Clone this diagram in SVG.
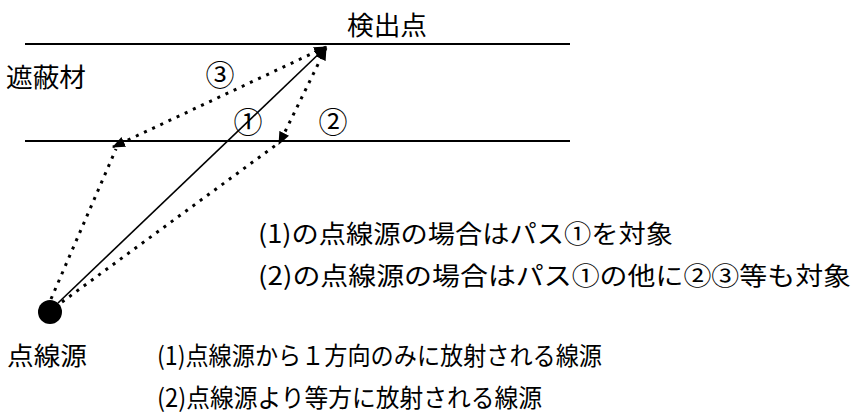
<svg xmlns="http://www.w3.org/2000/svg" width="857" height="418" viewBox="0 0 857 418">
<style>
  text { font-family: "Noto Sans CJK JP", "Noto Sans CJK SC", sans-serif; fill: #000; }
  .lbl { font-size: 26px; }
  .big { font-size: 25px; }
  .num { font-size: 29px; text-anchor: middle; }
  .wall { stroke: #000; stroke-width: 2.2; fill: none; }
  .solid { stroke: #000; stroke-width: 1.6; fill: none; }
  .dot { stroke: #000; stroke-width: 3; stroke-dasharray: 3 6; fill: none; }
</style>
<defs>
  <marker id="arr" markerUnits="userSpaceOnUse" viewBox="0 0 12 10" refX="11" refY="5" markerWidth="13" markerHeight="11" orient="auto-start-reverse">
    <path d="M0,0 L12,5 L0,10 Z" fill="#000"/>
  </marker>
</defs>
<g id="shield">
  <line class="wall" x1="25" y1="44" x2="570" y2="44"/>
  <line class="wall" x1="25" y1="141" x2="570" y2="141"/>
  <text class="lbl" x="6" y="87" textLength="80" lengthAdjust="spacingAndGlyphs">遮蔽材</text>
</g>
<g id="detector">
  <text class="lbl" x="347" y="35" textLength="80" lengthAdjust="spacingAndGlyphs">検出点</text>
</g>
<g id="source">
  <circle cx="50" cy="312" r="12" fill="#000"/>
  <text class="big" x="7" y="365" textLength="80" lengthAdjust="spacingAndGlyphs">点線源</text>
</g>
<g id="connectors">
  <line class="solid" x1="58" y1="303" x2="326" y2="47" marker-end="url(#arr)"/>
  <line class="dot" x1="62" y1="302" x2="276" y2="145"/>
  <line class="dot" x1="326" y1="48" x2="279" y2="144" marker-start="url(#arr)" marker-end="url(#arr)"/>
  <line class="dot" x1="51" y1="299" x2="116" y2="149"/>
  <line class="dot" x1="326" y1="47" x2="113" y2="147" marker-start="url(#arr)" marker-end="url(#arr)"/>
</g>
<g id="path-labels">
  <text class="num" x="220" y="86">③</text>
  <text class="num" x="248" y="133">①</text>
  <text class="num" x="333" y="133">②</text>
</g>
<g id="notes">
  <text class="big" x="258" y="243" textLength="415" lengthAdjust="spacingAndGlyphs">(1)の点線源の場合はパス①を対象</text>
  <text class="big" x="258" y="285" textLength="593" lengthAdjust="spacingAndGlyphs">(2)の点線源の場合はパス①の他に②③等も対象</text>
  <text class="big" x="157" y="365" textLength="445" lengthAdjust="spacingAndGlyphs">(1)点線源から１方向のみに放射される線源</text>
  <text class="big" x="157" y="407" textLength="385" lengthAdjust="spacingAndGlyphs">(2)点線源より等方に放射される線源</text>
</g>
</svg>
